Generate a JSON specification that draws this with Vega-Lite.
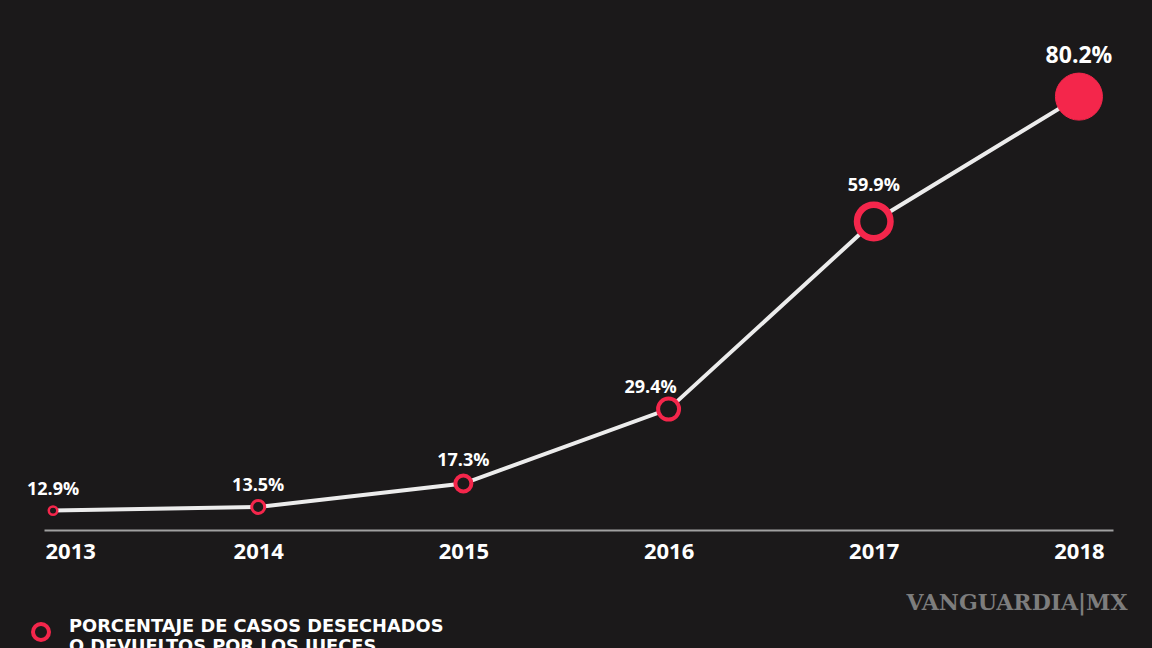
{
  "$schema": "https://vega.github.io/schema/vega-lite/v6.json",
  "autosize": {"type": "none"},
  "width": 1069,
  "height": 490,
  "padding": {"left": 44, "top": 40, "right": 39, "bottom": 118},
  "background": "#1b191a",
  "config": {"view": {"stroke": null}},
  "data": {
    "values": [
      {"year": 2013, "value": 12.9, "label": "12.9%", "series": "PORCENTAJE DE CASOS DESECHADOS O DEVUELTOS POR LOS JUECES"},
      {"year": 2014, "value": 13.5, "label": "13.5%", "series": "PORCENTAJE DE CASOS DESECHADOS O DEVUELTOS POR LOS JUECES"},
      {"year": 2015, "value": 17.3, "label": "17.3%", "series": "PORCENTAJE DE CASOS DESECHADOS O DEVUELTOS POR LOS JUECES"},
      {"year": 2016, "value": 29.4, "label": "29.4%", "series": "PORCENTAJE DE CASOS DESECHADOS O DEVUELTOS POR LOS JUECES"},
      {"year": 2017, "value": 59.9, "label": "59.9%", "series": "PORCENTAJE DE CASOS DESECHADOS O DEVUELTOS POR LOS JUECES"},
      {"year": 2018, "value": 80.2, "label": "80.2%", "series": "PORCENTAJE DE CASOS DESECHADOS O DEVUELTOS POR LOS JUECES"}
    ]
  },
  "encoding": {
    "x": {
      "field": "year",
      "type": "quantitative",
      "scale": {"domain": [2012.956, 2018.166], "nice": false, "zero": false},
      "axis": {
        "values": [2013, 2014, 2015, 2016, 2017, 2018],
        "format": "d",
        "ticks": false,
        "grid": false,
        "domainColor": "#a0a0a0",
        "domainWidth": 2,
        "labelColor": "#ffffff",
        "labelFont": "Open Sans",
        "labelFontWeight": "bold",
        "labelFontSize": 22,
        "labelPadding": 11,
        "labelAlign": {"condition": {"test": "datum.value === 2013", "value": "left"}, "value": "center"},
        "labelOffset": {"condition": {"test": "datum.value === 2013", "value": -8}, "value": 0},
        "title": "VANGUARDIA|MX",
        "titleFont": "DejaVu Serif",
        "titleFontWeight": "bold",
        "titleFontSize": 22,
        "titleColor": "#7d7d7d",
        "titleAnchor": "end",
        "titleAlign": "right",
        "titleBaseline": "middle",
        "titleX": 1083,
        "titleY": 72
      }
    },
    "y": {
      "field": "value",
      "type": "quantitative",
      "scale": {"domain": [9.75, 89.4], "nice": false, "zero": false},
      "axis": null
    }
  },
  "layer": [
    {
      "mark": {"type": "line", "color": "#ececec", "strokeWidth": 4, "interpolate": "linear"}
    },
    {
      "mark": {"type": "point", "shape": "circle", "filled": true, "opacity": 1},
      "encoding": {
        "stroke": {
          "field": "series",
          "type": "nominal",
          "scale": {"range": ["#f4264b"]},
          "legend": {
            "orient": "none",
            "legendX": -13,
            "legendY": 582,
            "title": null,
            "labelExpr": "['PORCENTAJE DE CASOS DESECHADOS', 'O DEVUELTOS POR LOS JUECES']",
            "labelColor": "#ffffff",
            "labelFont": "DejaVu Sans",
            "labelFontWeight": "bold",
            "labelFontSize": 17.8,
            "labelBaseline": "alphabetic",
            "labelLimit": 600,
            "labelOffset": 18,
            "symbolType": "circle",
            "symbolSize": 256,
            "symbolStrokeWidth": 4,
            "symbolFillColor": "#1b191a"
          }
        },
        "fill": {
          "condition": {"test": "datum.year === 2018", "value": "#f4264b"},
          "value": "#1b191a"
        },
        "size": {
          "field": "year",
          "type": "ordinal",
          "scale": {"type": "ordinal", "domain": [2013, 2014, 2015, 2016, 2017, 2018], "range": [72, 169, 256, 441, 1122, 2209]},
          "legend": null
        },
        "strokeWidth": {
          "field": "year",
          "type": "ordinal",
          "scale": {"type": "ordinal", "domain": [2013, 2014, 2015, 2016, 2017, 2018], "range": [2.5, 3, 4, 4, 6.5, 1]},
          "legend": null
        }
      }
    },
    {
      "transform": [{"filter": "datum.year <= 2014"}],
      "mark": {"type": "text", "color": "#ffffff", "font": "Open Sans", "fontWeight": "bold", "fontSize": 18, "baseline": "middle", "dy": -21},
      "encoding": {"text": {"field": "label"}}
    },
    {
      "transform": [{"filter": "datum.year === 2015"}],
      "mark": {"type": "text", "color": "#ffffff", "font": "Open Sans", "fontWeight": "bold", "fontSize": 18, "baseline": "middle", "dy": -23},
      "encoding": {"text": {"field": "label"}}
    },
    {
      "transform": [{"filter": "datum.year === 2016"}],
      "mark": {"type": "text", "color": "#ffffff", "font": "Open Sans", "fontWeight": "bold", "fontSize": 18, "baseline": "middle", "dy": -21, "dx": -18},
      "encoding": {"text": {"field": "label"}}
    },
    {
      "transform": [{"filter": "datum.year === 2017"}],
      "mark": {"type": "text", "color": "#ffffff", "font": "Open Sans", "fontWeight": "bold", "fontSize": 18, "baseline": "middle", "dy": -35},
      "encoding": {"text": {"field": "label"}}
    },
    {
      "transform": [{"filter": "datum.year === 2018"}],
      "mark": {"type": "text", "color": "#ffffff", "font": "Open Sans", "fontWeight": "bold", "fontSize": 23, "baseline": "middle", "dy": -41},
      "encoding": {"text": {"field": "label"}}
    }
  ]
}
